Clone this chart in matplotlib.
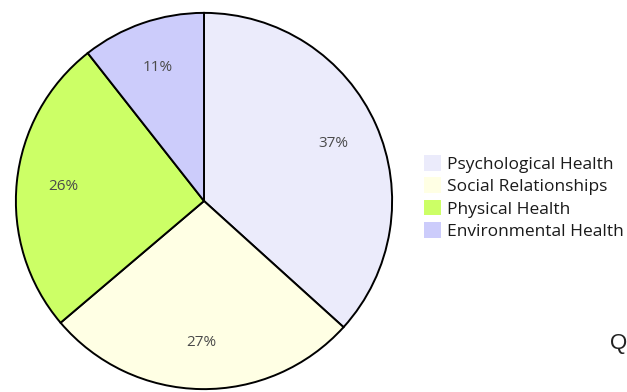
import matplotlib.pyplot as plt
from matplotlib.patches import Patch

plt.rcParams['font.family'] = ['Open Sans', 'DejaVu Sans']

domains = ['Psychological Health', 'Social Relationships', 'Physical Health', 'Environmental Health']
shares = [36.7, 27.1, 25.6, 10.6]
colors = ['#EBEBFB', '#FFFFE4', '#CCFF66', '#CCCCFB']

W, H = 627, 392
fig = plt.figure(figsize=(W / 100, H / 100), dpi=100)

# pie centred at (204, 201) px, radius 190 px
cx, cy, r = 204, 201, 190
ax = fig.add_axes([(cx - r) / W, (H - cy - r) / H, 2 * r / W, 2 * r / H])
wedges, texts, autotexts = ax.pie(
    shares, colors=colors, startangle=90, counterclock=False,
    autopct='%.0f%%', pctdistance=0.75, radius=1,
    wedgeprops=dict(edgecolor='black', linewidth=1.4),
    textprops=dict(color='#4a4a4a', fontsize=11))
ax.set_xlim(-1.01, 1.01)
ax.set_ylim(-1.01, 1.01)
ax.set_aspect('equal')
ax.axis('off')

handles = [Patch(facecolor=c, edgecolor='none') for c in colors]
fig.legend(handles, domains, loc='upper left', bbox_to_anchor=(424 / W, 1 - 155 / H),
           frameon=False, fontsize=12.5, handlelength=1.0, handleheight=1.0,
           handletextpad=0.3, labelspacing=0.27, borderpad=0, borderaxespad=0,
           labelcolor='#1a1a1a')

fig.text(610 / W, 1 - 343 / H, 'Q', fontsize=16, family='Liberation Sans',
         color='#222222', va='center', ha='left')

fig.savefig('out.png', dpi=100)
